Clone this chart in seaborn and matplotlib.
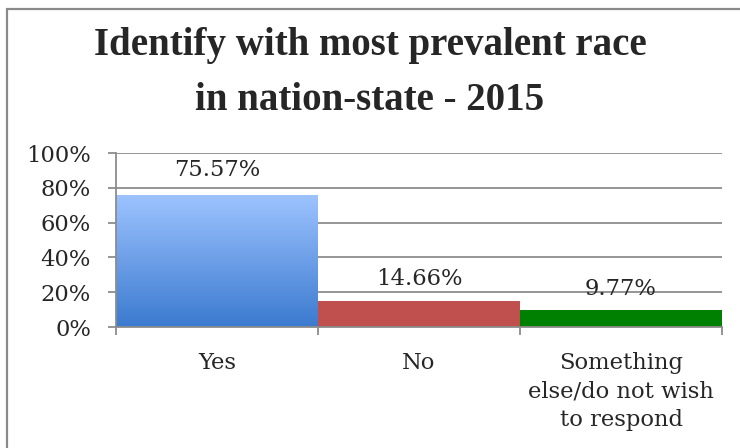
import matplotlib
matplotlib.use("Agg")
import matplotlib.pyplot as plt
import seaborn as sns
import numpy as np
import pandas as pd
from matplotlib.colors import LinearSegmentedColormap
from matplotlib.lines import Line2D

# ---- data ----
categories = ["Yes", "No", "Something\nelse/do not wish\nto respond"]
values = [75.57, 14.66, 9.77]
value_labels = ["75.57%", "14.66%", "9.77%"]
yticks = [0, 20, 40, 60, 80, 100]
ytick_labels = ["0%", "20%", "40%", "60%", "80%", "100%"]
title_lines = ["Identify with most prevalent race", "in nation-state - 2015"]
bar_colors = ["#5F98E6", "#C0504D", "#008000"]

sns.set_style("white")
plt.rcParams["font.family"] = ["DejaVu Serif"]

W, H = 740, 448
fig = plt.figure(figsize=(W / 100, H / 100), dpi=100)
ax = fig.add_axes([116 / W, 1 - 327 / H, (722 - 116) / W, (327 - 153) / H])

df = pd.DataFrame({"cat": categories, "val": values})
sns.barplot(data=df, x="cat", y="val", hue="cat", palette=bar_colors,
            width=1.0, legend=False, ax=ax, saturation=1, linewidth=0)

# gradient on first bar
p = ax.patches[0]
x0, y0, w, h = p.get_x(), p.get_y(), p.get_width(), p.get_height()
cmap = LinearSegmentedColormap.from_list("g", ["#3B7ACF", "#9DC3FF"])
grad = np.linspace(0, 1, 256).reshape(-1, 1)
ax.imshow(grad, extent=[x0, x0 + w, y0, y0 + h], origin="lower", cmap=cmap,
          aspect="auto", zorder=p.get_zorder() + 0.1, clip_path=p,
          interpolation="bilinear")

ax.set_xlim(-0.5, 2.5)
ax.set_ylim(0, 100)
ax.set_xlabel("")
ax.set_ylabel("")

fs = 16.3
grid_c = "#8C8C8C"
ax.set_axisbelow(True)
ax.set_yticks(yticks)
ax.set_yticklabels(ytick_labels)
ax.yaxis.grid(True, color=grid_c, linewidth=1.3)
ax.xaxis.grid(False)

ax.set_xticks([-0.5, 0.5, 1.5, 2.5])
ax.set_xticklabels([])
ax.set_xticks([0, 1, 2], minor=True)
ax.set_xticklabels(categories, minor=True, linespacing=1.38)
ax.tick_params(axis="x", which="major", length=6, width=1.3, color=grid_c, bottom=True)
ax.tick_params(axis="x", which="minor", length=0, pad=18, labelsize=fs)
ax.tick_params(axis="y", length=6, width=1.3, color=grid_c, left=True, pad=12, labelsize=fs)

for s in ["top", "right"]:
    ax.spines[s].set_visible(False)
for s in ["left", "bottom"]:
    ax.spines[s].set_color(grid_c)
    ax.spines[s].set_linewidth(1.3)

offsets = [14, 12, 11]
for i, (v, lab) in enumerate(zip(values, value_labels)):
    ax.annotate(lab, xy=(i, v), xytext=(0, offsets[i]), textcoords="offset points",
                ha="center", va="baseline", fontsize=fs)

fig.text(370 / W, 1 - 45 / H, title_lines[0], ha="center", va="center",
         fontsize=28, fontweight="bold", family="Liberation Serif")
fig.text(370 / W, 1 - 100 / H, title_lines[1], ha="center", va="center",
         fontsize=28, fontweight="bold", family="Liberation Serif")

# outer border (top and left visible)
fig.add_artist(Line2D([6.5 / W, 1], [1 - 9.5 / H, 1 - 9.5 / H], color="#8A8A8A",
                      linewidth=1.6, transform=fig.transFigure))
fig.add_artist(Line2D([6.5 / W, 6.5 / W], [0, 1 - 9.5 / H], color="#8A8A8A",
                      linewidth=1.6, transform=fig.transFigure))

fig.savefig("out.png", dpi=100)
